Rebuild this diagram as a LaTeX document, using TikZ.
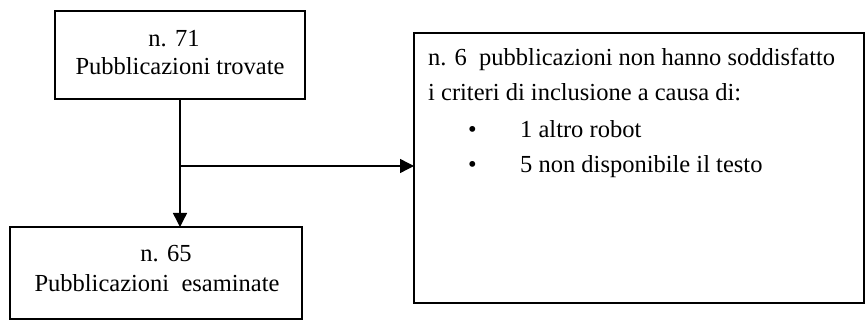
\documentclass[tikz,border=0pt]{standalone}
\usepackage{fontspec}
\setmainfont{Liberation Serif}
\usetikzlibrary{arrows.meta}
\begin{document}
\begin{tikzpicture}[x=1pt,y=-1pt,
  box/.style={draw, line width=1.4pt, inner sep=0pt, outer sep=0pt},
  txt/.style={inner sep=0pt, anchor=base, font=\fontsize{24.5}{29}\selectfont},
  ltxt/.style={inner sep=0pt, anchor=base west, font=\fontsize{24.5}{29}\selectfont},
  conn/.style={line width=1.4pt, -{Triangle[width=14pt,length=14pt]}}]
\useasboundingbox (0,0) rectangle (865,320);
% boxes
\node[box, minimum width=250pt, minimum height=88pt] (b1) at (180,55) {};
\node[box, minimum width=292pt, minimum height=92pt] (b2) at (156,273) {};
\node[box, minimum width=450pt, minimum height=270pt] (b3) at (639,168) {};
% texts
\node[txt] (t1a) at (174,47) {n. 71};
\node[txt] (t1b) at (180,75) {Pubblicazioni trovate};
\node[txt] (t2a) at (166,262) {n. 65};
\node[txt] (t2b) at (157,292) {Pubblicazioni\ \ esaminate};
\node[ltxt] (t3a) at (428,66) {n. 6\ \ pubblicazioni non hanno soddisfatto};
\node[ltxt] (t3b) at (428,101) {i criteri di inclusione a causa di:};
\node[ltxt] (t3c) at (468,138) {•};
\node[ltxt] (t3d) at (520,138) {1 altro robot};
\node[ltxt] (t3e) at (468,173) {•};
\node[ltxt] (t3f) at (520,173) {5 non disponibile il testo};
% connectors
\coordinate (top) at (180,99);
\coordinate (j) at (180,166);
\draw[conn] (top) -- (top |- b2.north);
\draw[conn] (j) -- (j -| b3.west);
\end{tikzpicture}
\end{document}
